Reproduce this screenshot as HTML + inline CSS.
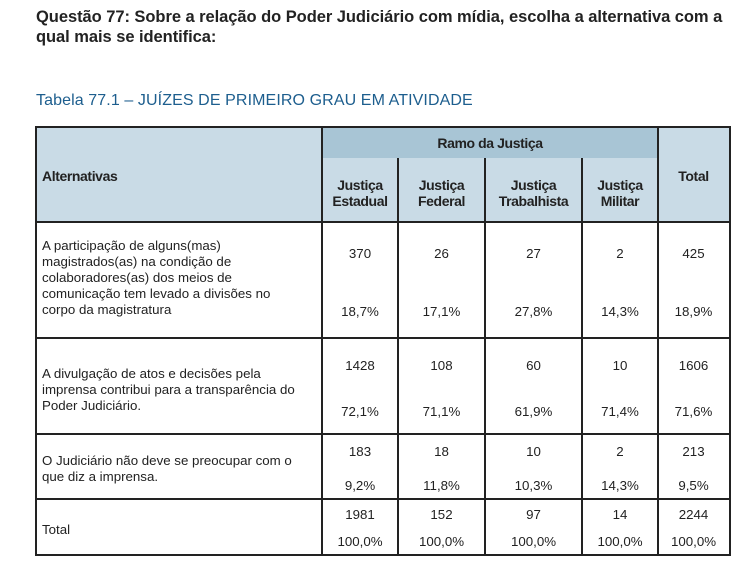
<!DOCTYPE html>
<html><head><meta charset="utf-8">
<style>
body{margin:0;width:754px;height:570px;background:#fff;position:relative;overflow:hidden;font-family:"Liberation Sans",sans-serif;}
.abs{position:absolute;}
.q{left:36px;font-weight:bold;font-size:16.5px;color:#222;white-space:nowrap;letter-spacing:-0.05px}
.sub{left:36px;top:92px;font-size:16px;color:#1d5e8e;white-space:nowrap;letter-spacing:0.1px}
.cell{position:absolute;box-sizing:border-box;}
.hdr{font-weight:bold;font-size:14px;color:#222;text-align:center;line-height:16px;letter-spacing:-0.4px}
.txt{font-size:13.3px;color:#222;line-height:16px;white-space:nowrap}
.num{font-size:13.3px;color:#222;text-align:center;width:100%;position:absolute;left:0}
.ln{position:absolute;background:#222}
</style></head><body>
<div class="abs q" style="top:8px">Questão 77: Sobre a relação do Poder Judiciário com mídia, escolha a alternativa com a</div>
<div class="abs q" style="top:28px">qual mais se identifica:</div>
<div class="abs sub">Tabela 77.1 – JUÍZES DE PRIMEIRO GRAU EM ATIVIDADE</div>
<div id="tbl"></div>
<script>
const columns=["Justiça Estadual","Justiça Federal","Justiça Trabalhista","Justiça Militar","Total"];
const rowLabels=["A participação de alguns(mas)<br>magistrados(as) na condição de<br>colaboradores(as) dos meios de<br>comunicação tem levado a divisões no<br>corpo da magistratura","A divulgação de atos e decisões pela<br>imprensa contribui para a transparência do<br>Poder Judiciário.","O Judiciário não deve se preocupar com o<br>que diz a imprensa.","Total"];
const counts=[[370,26,27,2,425],[1428,108,60,10,1606],[183,18,10,2,213],[1981,152,97,14,2244]];
const pcts=[["18,7%","17,1%","27,8%","14,3%","18,9%"],["72,1%","71,1%","61,9%","71,4%","71,6%"],["9,2%","11,8%","10,3%","14,3%","9,5%"],["100,0%","100,0%","100,0%","100,0%","100,0%"]];
const X=[36,322,398,485,582,658,729];
const rowTop=[222,338,434,499,555];
const numOff=[[32,90],[28,74],[18,52],[16,43]];
const txtTop=[16,28,19,23];
const T=document.getElementById('tbl');
function mk(cls,css,html){const d=document.createElement('div');d.className=cls;d.style.cssText=css;if(html!==undefined)d.innerHTML=html;T.appendChild(d);return d;}
let h=mk('cell','left:36px;top:127px;width:693px;height:95px;background:#c9dbe6');


let rb=mk('cell','left:322px;top:127px;width:336px;height:31px;background:#a8c5d5');


let rt=mk('cell hdr','left:322px;top:135px;width:336px','Ramo da Justiça');


let al=mk('cell hdr','left:42px;top:168px;text-align:left','Alternativas');


for(let c=0;c<4;c++){
  const p=columns[c].split(' ');
  const e=mk('cell hdr',`left:${X[c+1]}px;top:177px;width:${X[c+2]-X[c+1]}px`,p[0]+'<br>'+p[1]);
  
  
}
let tt=mk('cell hdr',`left:658px;top:168px;width:71px`,columns[4]);


for(let r=0;r<rowLabels.length;r++){
  const top=rowTop[r];
  const lab=mk('cell txt',`left:42px;top:${top+txtTop[r]}px;width:272px`,rowLabels[r]);
  
  
  for(let c=0;c<5;c++){
    const cell=mk('cell',`left:${X[c+1]}px;top:${top}px;width:${X[c+2]-X[c+1]}px;height:${rowTop[r+1]-top}px`);
    
    
    const n=document.createElement('div');n.className='num';n.style.top=(numOff[r][0]-8)+'px';n.textContent=counts[r][c];
    
    
    cell.appendChild(n);
    const pc=document.createElement('div');pc.className='num';pc.style.top=(numOff[r][1]-8)+'px';pc.textContent=pcts[r][c];
    
    
    cell.appendChild(pc);
  }
}
const hl=[127,222,338,434,499,555];
hl.forEach(y=>{const l=mk('ln',`left:35px;top:${y-1}px;width:695px;height:1.5px`);});
[35,729].forEach(x=>{const l=mk('ln',`left:${x}px;top:126px;width:1.5px;height:430px`);});
[322,658].forEach(x=>{const l=mk('ln',`left:${x-1}px;top:126px;width:1.5px;height:430px`);});
[398,485,582].forEach(x=>{const l=mk('ln',`left:${x-1}px;top:158px;width:1.5px;height:398px`);});
</script>
</body></html>
